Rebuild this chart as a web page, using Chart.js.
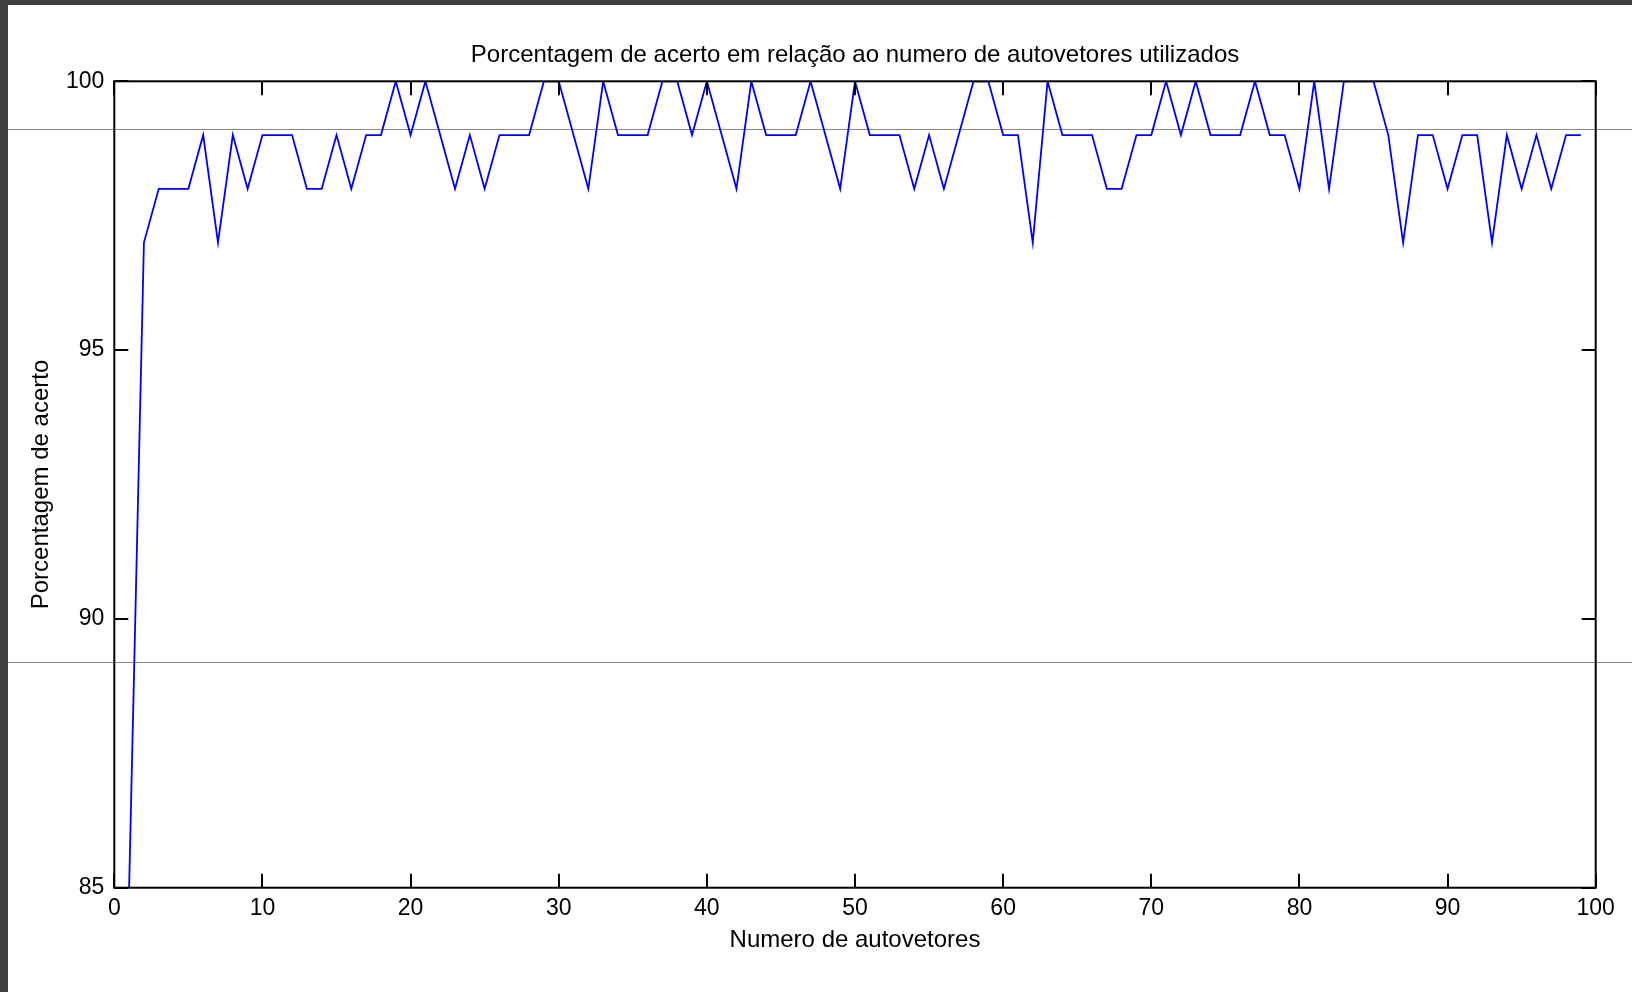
<!DOCTYPE html>
<html>
<head>
<meta charset="utf-8">
<script src="https://cdn.jsdelivr.net/npm/chart.js@4.4.1/dist/chart.umd.min.js"></script>
<style>
  html, body { margin: 0; padding: 0; background: #404040; overflow: hidden; }
  #frame { position: absolute; left: 8px; top: 5px; width: 1624px; height: 987px; background: #ffffff; }
</style>
</head>
<body>
<div id="frame"><canvas id="myChart" width="1624" height="987"></canvas></div>
<script>
//--------------------- Data

//Number of eigenvectors used (x axis)
var numVectors = []
for (var n = 1; n <= 99; n++) numVectors.push(n)

//Hit rate (%) for each number of eigenvectors
var hitRate = [
  85, 97, 98, 98, 98, 99, 97, 99, 98, 99,
  99, 99, 98, 98, 99, 98, 99, 99, 100, 99,
  100, 99, 98, 99, 98, 99, 99, 99, 100, 100,
  99, 98, 100, 99, 99, 99, 100, 100, 99, 100,
  99, 98, 100, 99, 99, 99, 100, 99, 98, 100,
  99, 99, 99, 98, 99, 98, 99, 100, 100, 99,
  99, 97, 100, 99, 99, 99, 98, 98, 99, 99,
  100, 99, 100, 99, 99, 99, 100, 99, 99, 98,
  100, 98, 100, 100, 100, 99, 97, 99, 99, 98,
  99, 99, 97, 99, 98, 99, 98, 99, 99
]

//Tick labels
var xTicks = [0, 10, 20, 30, 40, 50, 60, 70, 80, 90, 100]
var yTicks = [85, 90, 95, 100]

var title = "Porcentagem de acerto em relação ao numero de autovetores utilizados"
var xlabel = "Numero de autovetores"
var ylabel = "Porcentagem de acerto"

var fontFamily = "'Liberation Sans', Arial, sans-serif"

//-------------------- Plugins

//Draws the black axes box with inward ticks on every side (MATLAB style)
var axesBox = {
  id: "axesBox",
  beforeDatasetsDraw: function (chart) {
    var ctx = chart.ctx
    //stray grey guide lines seen across the screenshot
    ctx.save()
    ctx.strokeStyle = "#8a8a8a"
    ctx.lineWidth = 1
    ctx.beginPath()
    ctx.moveTo(0, 124.5); ctx.lineTo(chart.width, 124.5)
    ctx.moveTo(0, 657.5); ctx.lineTo(chart.width, 657.5)
    ctx.stroke()
    ctx.restore()
  },
  afterDraw: function (chart) {
    var ctx = chart.ctx
    var a = chart.chartArea
    var xs = chart.scales.x, ys = chart.scales.y
    var len = 14
    ctx.save()
    ctx.strokeStyle = "#000000"
    ctx.lineWidth = 2
    ctx.strokeRect(a.left, a.top, a.right - a.left, a.bottom - a.top)
    ctx.beginPath()
    for (var i = 0; i < xTicks.length; i++) {
      var px = Math.round(xs.getPixelForValue(xTicks[i]))
      ctx.moveTo(px, a.bottom); ctx.lineTo(px, a.bottom - len)
      ctx.moveTo(px, a.top); ctx.lineTo(px, a.top + len)
    }
    for (var j = 0; j < yTicks.length; j++) {
      var py = Math.round(ys.getPixelForValue(yTicks[j]))
      ctx.moveTo(a.left, py); ctx.lineTo(a.left + len, py)
      ctx.moveTo(a.right, py); ctx.lineTo(a.right - len, py)
    }
    ctx.stroke()
    ctx.restore()
  }
}

//-------------------- Chart

var points = []
for (var k = 0; k < numVectors.length; k++) {
  points.push({ x: numVectors[k], y: hitRate[k] })
}

var ctx = document.getElementById("myChart")
var myChart = new Chart(ctx, {
  type: "line",
  data: {
    datasets: [{
      data: points,
      borderColor: "#0000ff",
      borderWidth: 1.8,
      pointRadius: 0,
      tension: 0,
      fill: false
    }]
  },
  options: {
    animation: false,
    responsive: false,
    devicePixelRatio: 1,
    layout: { padding: { left: 0, right: 36.3, top: 0, bottom: 0 } },
    scales: {
      x: {
        type: "linear",
        min: 0,
        max: 100,
        afterBuildTicks: function (scale) {
          scale.ticks = xTicks.map(function (v) { return { value: v } })
        },
        afterFit: function (scale) { scale.height = 104.3 },
        grid: { display: false, drawTicks: false },
        border: { display: false },
        ticks: {
          color: "#000000",
          padding: 7,
          maxRotation: 0,
          font: { family: fontFamily, size: 23 }
        },
        title: {
          display: true,
          text: xlabel,
          color: "#000000",
          font: { family: fontFamily, size: 24 },
          padding: { top: 0, bottom: 37.6 }
        }
      },
      y: {
        min: 85,
        max: 100,
        afterBuildTicks: function (scale) {
          scale.ticks = yTicks.map(function (v) { return { value: v } })
        },
        afterFit: function (scale) { scale.width = 106.3 },
        grid: { display: false, drawTicks: false },
        border: { display: false },
        ticks: {
          color: "#000000",
          padding: 10,
          font: { family: fontFamily, size: 23 }
        },
        title: {
          display: true,
          text: ylabel,
          color: "#000000",
          font: { family: fontFamily, size: 24 },
          padding: { top: 18.6, bottom: 0 }
        }
      }
    },
    plugins: {
      legend: { display: false },
      tooltip: { enabled: false },
      title: {
        display: true,
        text: title,
        color: "#000000",
        fullSize: false,
        font: { family: fontFamily, size: 24, weight: "normal" },
        padding: { top: 35.6, bottom: 11.9 }
      }
    }
  },
  plugins: [axesBox]
})
</script>
</body>
</html>
